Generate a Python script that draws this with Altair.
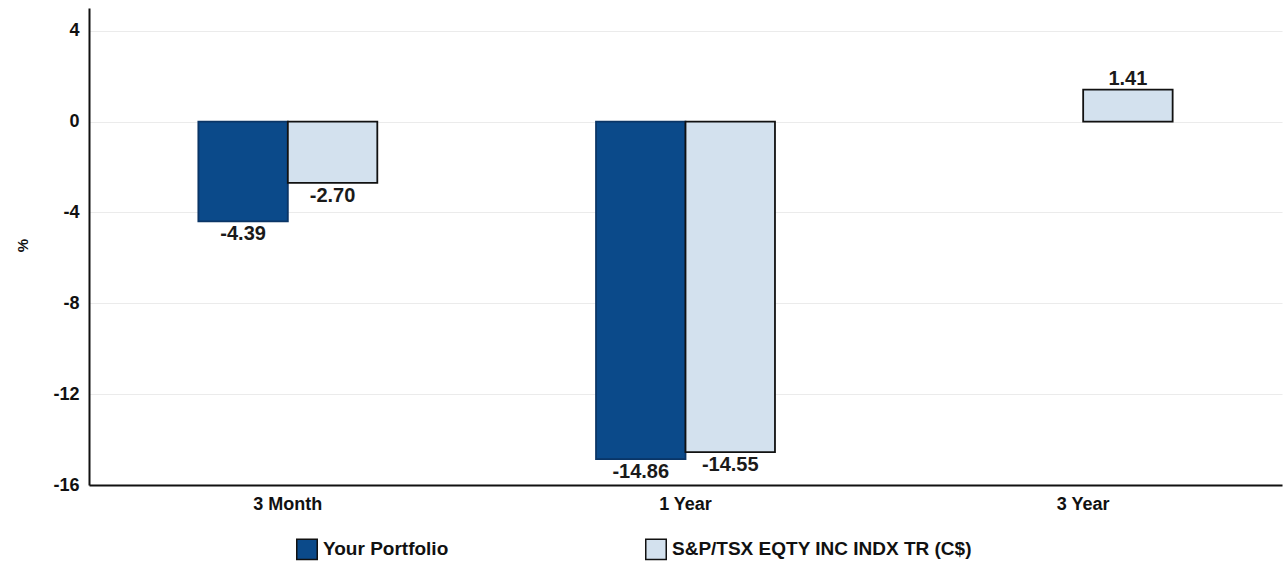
import altair as alt
import pandas as pd

# Period returns (%) for the portfolio and its benchmark
periods = ["3 Month", "1 Year", "3 Year"]
series = ["Your Portfolio", "S&P/TSX EQTY INC INDX TR (C$)"]
portfolio = [-4.39, -14.86, None]
benchmark = [-2.70, -14.55, 1.41]
y_ticks = [4, 0, -4, -8, -12, -16]

DARK = "#0b4a8a"
LIGHT = "#d3e1ee"
FONT = "Liberation Sans"

rows = []
for p, a, b in zip(periods, portfolio, benchmark):
    if a is not None:
        rows.append({"period": p, "series": series[0], "value": a})
    rows.append({"period": p, "series": series[1], "value": b})
df = pd.DataFrame(rows)
df["label"] = df["value"].map(lambda v: f"{v:.2f}")

x_enc = alt.X(
    "period:N",
    sort=periods,
    scale=alt.Scale(domain=periods, paddingInner=0.55, paddingOuter=0.275),
    axis=alt.Axis(
        title=None, labelAngle=0, ticks=False, grid=False,
        domainColor="#111", domainWidth=2,
        labelFont=FONT, labelFontWeight="bold", labelFontSize=18,
        labelColor="#111", labelPadding=10,
    ),
)
xo_enc = alt.XOffset(
    "series:N", sort=series,
    scale=alt.Scale(domain=series, paddingInner=0, paddingOuter=0),
)
y_enc = alt.Y(
    "value:Q",
    scale=alt.Scale(domain=[-16, 5], nice=False, zero=False),
    axis=alt.Axis(
        values=y_ticks, title="%", ticks=False,
        # plain hyphen for negative tick labels
        labelExpr="datum.value < 0 ? '-' + abs(datum.value) : '' + datum.value",
        domainColor="#111", domainWidth=2,
        gridColor="#ebebeb", gridWidth=1,
        labelFont=FONT, labelFontWeight="bold", labelFontSize=18,
        labelColor="#111", labelPadding=10,
        titleFont=FONT, titleFontWeight="bold", titleFontSize=15,
        titleColor="#111", titleX=-67, titleY=237,
        titleAlign="center", titleBaseline="middle",
    ),
)

base = alt.Chart(df).encode(x=x_enc, xOffset=xo_enc, y=y_enc)

bars = base.mark_bar(strokeWidth=1.8).encode(
    color=alt.Color(
        "series:N",
        scale=alt.Scale(domain=series, range=[DARK, LIGHT]),
        legend=alt.Legend(
            title=None, orient="none", direction="horizontal",
            legendX=207, legendY=530, columnPadding=193,
            symbolType="square", symbolSize=420,
            symbolStrokeColor="#111", symbolStrokeWidth=1.5,
            labelFont=FONT, labelFontWeight="bold", labelFontSize=19,
            labelColor="#111", labelOffset=5, labelLimit=400,
        ),
    ),
    stroke=alt.condition(
        alt.datum.series == series[0], alt.value("#0a3566"), alt.value("#111")
    ),
)

text_style = dict(font=FONT, fontSize=20, fontWeight="bold", color="#1a1a1a")
neg_labels = base.transform_filter(alt.datum.value < 0).mark_text(
    baseline="top", dy=3, **text_style
).encode(text="label:N")
pos_labels = base.transform_filter(alt.datum.value >= 0).mark_text(
    baseline="bottom", dy=-1, **text_style
).encode(text="label:N")

chart = (
    alt.layer(bars, neg_labels, pos_labels)
    .properties(
        width=1193, height=477,
        autosize=alt.AutoSizeParams(type="none"),
        padding={"left": 89, "top": 8, "right": 6, "bottom": 78},
        background="white",
    )
    .configure_view(stroke=None)
)

chart.save("out.html", embed_options={"renderer": "svg", "actions": False})
